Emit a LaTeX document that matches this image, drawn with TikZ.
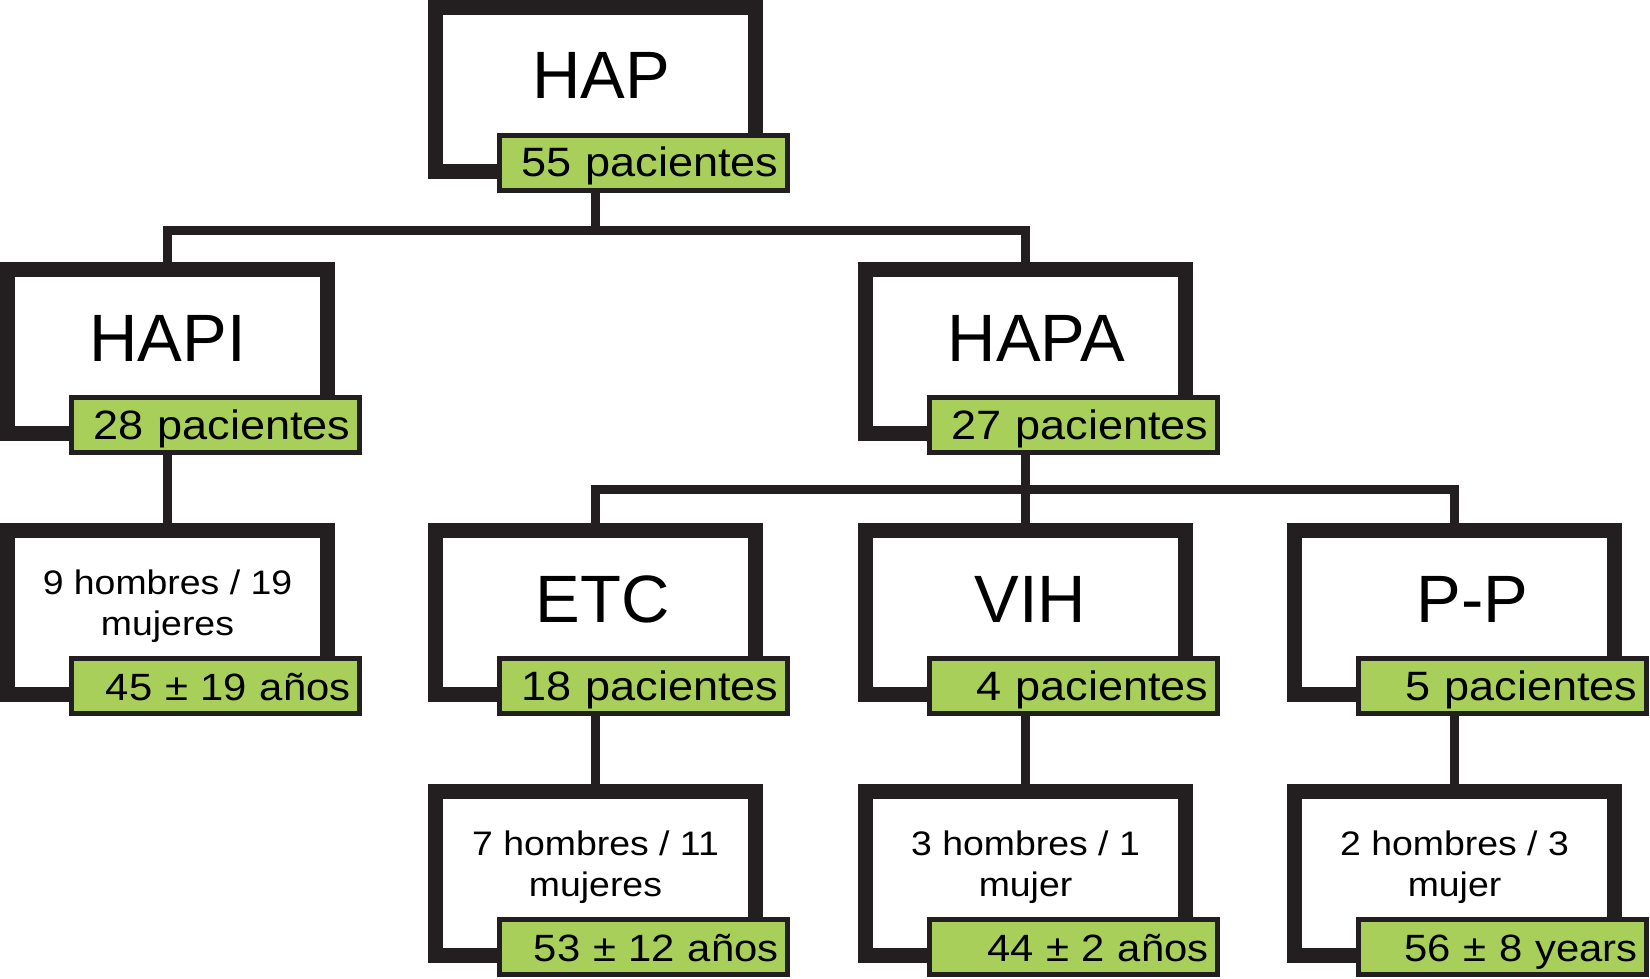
\documentclass[tikz,border=0pt]{standalone}
\usepackage{fontspec}
\setmainfont{Liberation Sans}
\newfontfamily\lblfont[FakeStretch=1.1]{Liberation Sans}
\definecolor{ink}{RGB}{35,31,32}
\definecolor{lime}{RGB}{168,207,90}
\begin{document}
\begin{tikzpicture}[x=1pt,y=-1pt,
  box/.style={draw=ink, line width=15pt, fill=white, minimum width=320pt, minimum height=164pt, inner sep=0pt, outer sep=0pt},
  big/.style={box, font=\fontsize{67}{80}\selectfont, text height=49pt, text depth=30pt},
  info/.style={box, font=\lblfont\fontsize{34}{41}\selectfont, align=center, text height=55pt, text depth=10pt},
  tag/.style={draw=ink, line width=5pt, fill=lime, minimum width=288pt, minimum height=55pt, text width=270pt, align=right, inner xsep=9pt, inner ysep=0pt, outer sep=0pt, font=\lblfont\fontsize{41}{45}\selectfont, text height=34pt, text depth=6pt},
  tagpm/.style={tag, font=\lblfont\fontsize{38}{45}\selectfont},
  conn/.style={draw=ink, line width=9pt, line join=miter}
]
\fill[white] (0,0) rectangle (1650,979);
\useasboundingbox (0,0) rectangle (1650,979);

% row 1
\node[big] (hap) at (595.5,89.5) {\hspace*{12pt}HAP};
\node[tag] (hapg) at (643.5,163) {55 pacientes};

% row 2
\node[big] (hapi) at (167.5,351.5) {HAPI};
\node[tag] (hapig) at (215.5,425) {28 pacientes};
\node[big] (hapa) at (1025.5,351.5) {\hspace*{22pt}HAPA};
\node[tag] (hapag) at (1073.5,425) {27 pacientes};

% row 3
\node[info] (c1) at (167.5,612.5) {9 hombres / 19\\mujeres};
\node[tagpm] (c1g) at (215.5,686) {45 ± 19 años};
\node[big] (etc) at (595.5,612.5) {\hspace*{14pt}ETC};
\node[tag] (etcg) at (643.5,686) {18 pacientes};
\node[big] (vih) at (1025.5,612.5) {\hspace*{10pt}VIH};
\node[tag] (vihg) at (1073.5,686) {4 pacientes};
\node[big] (pp) at (1454.5,612.5) {\hspace*{36pt}P-P};
\node[tag] (ppg) at (1502.5,686) {5 pacientes};

% row 4
\node[info] (etcd) at (595.5,873.5) {7 hombres / 11\\mujeres};
\node[tagpm] (etcdg) at (643.5,947) {53 ± 12 años};
\node[info] (vihd) at (1025.5,873.5) {3 hombres / 1\\mujer};
\node[tagpm] (vihdg) at (1073.5,947) {44 ± 2 años};
\node[info] (ppd) at (1454.5,873.5) {2 hombres / 3\\mujer};
\node[tagpm] (ppdg) at (1502.5,947) {56 ± 8 years};

% junctions
\coordinate (j1) at (595.5,230);
\coordinate (j2) at (1025.5,489);

% connectors
\draw[conn] (hap.center |- hapg.south) -- (j1);
\draw[conn] (hapi.north) |- (j1) -| (hapa.north);
\draw[conn] (hapi.center |- hapig.south) -- (c1.north);
\draw[conn] (hapa.center |- hapag.south) -- (j2);
\draw[conn] (etc.north) |- (j2) -| (pp.north);
\draw[conn] (j2) -- (vih.north);
\draw[conn] (etc.center |- etcg.south) -- (etcd.north);
\draw[conn] (vih.center |- vihg.south) -- (vihd.north);
\draw[conn] (pp.center |- ppg.south) -- (ppd.north);
\end{tikzpicture}
\end{document}
